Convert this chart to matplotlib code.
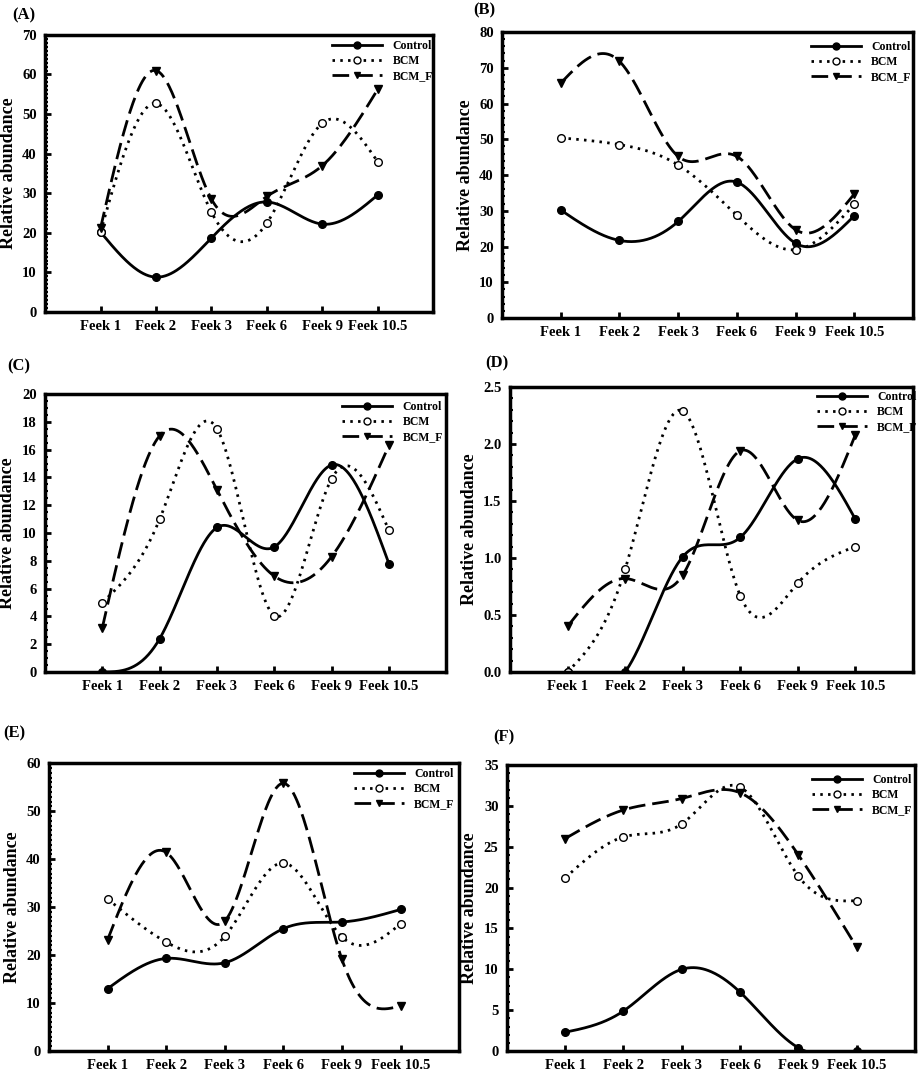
import numpy as np
import matplotlib
matplotlib.use('agg')
from matplotlib import pyplot
from matplotlib import rcParams
from matplotlib.ticker import MultipleLocator

rcParams['font.family'] = ['Liberation Serif', 'DejaVu Serif']
rcParams['font.weight'] = 'bold'

weeks = ['Feek 1', 'Feek 2', 'Feek 3', 'Feek 6', 'Feek 9', 'Feek 10.5']
x_pos = [1, 2, 3, 4, 5, 6]

# panel A
a_control = [20.2, 8.8, 18.7, 27.8, 22.2, 29.6]
a_bcm = [20.2, 52.7, 25.2, 22.5, 47.7, 37.9]
a_bcmf = [21.2, 61.0, 28.5, 29.2, 37.0, 56.3]
# panel B
b_control = [30.2, 21.7, 27.0, 38.0, 20.9, 28.6]
b_bcm = [50.4, 48.5, 42.8, 28.7, 19.1, 31.8]
b_bcmf = [65.7, 71.8, 45.2, 45.2, 24.7, 34.7]
# panel C
c_control = [0.0, 2.4, 10.4, 9.0, 14.9, 7.8]
c_bcm = [5.0, 11.0, 17.5, 4.05, 13.9, 10.2]
c_bcmf = [3.2, 17.0, 13.1, 6.9, 8.3, 16.3]
# panel D
d_control = [0.0, 0.0, 1.01, 1.18, 1.87, 1.34]
d_bcm = [0.0, 0.9, 2.29, 0.67, 0.78, 1.10]
d_bcmf = [0.40, 0.82, 0.85, 1.94, 1.33, 2.08]
# panel E
e_control = [13.0, 19.3, 18.4, 25.5, 26.9, 29.5]
e_bcm = [31.7, 22.7, 23.9, 39.2, 23.8, 26.5]
e_bcmf = [23.2, 41.4, 27.1, 55.8, 19.1, 9.4]
# panel F
f_control = [2.3, 4.9, 10.0, 7.2, 0.4, 0.0]
f_bcm = [21.2, 26.2, 27.8, 32.3, 21.4, 18.4]
f_bcmf = [26.0, 29.5, 30.9, 31.6, 24.0, 12.7]

panels = [
  ('(A)', a_control, a_bcm, a_bcmf, 70, 10, 10),
  ('(B)', b_control, b_bcm, b_bcmf, 80, 10, 5),
  ('(C)', c_control, c_bcm, c_bcmf, 20, 2, 4),
  ('(D)', d_control, d_bcm, d_bcmf, 2.5, 0.5, 5),
  ('(E)', e_control, e_bcm, e_bcmf, 60, 10, 10),
  ('(F)', f_control, f_bcm, f_bcmf, 35, 5, 5),
]

# layout (figure fractions) : axes rect, legend anchor, panel label position
axes_rects = [
  [0.049, 0.7095, 0.422, 0.258],
  [0.5457, 0.7039, 0.4467, 0.2663],
  [0.049, 0.3743, 0.436, 0.2588],
  [0.5543, 0.3743, 0.438, 0.2654],
  [0.0533, 0.0214, 0.4457, 0.268],
  [0.551, 0.0214, 0.4435, 0.2663],
]
legend_anchor = [(0.740, 0.982), (0.752, 0.969), (0.741, 0.975),
                 (0.762, 0.986), (0.744, 0.983), (0.748, 0.969)]
label_pos = [(12, 15), (473, 10), (7, 366), (485, 363), (3, 733), (493, 737)]


def natural_spline(x, y, n=300):
  # natural cubic spline, only used to draw the smooth connecting curve
  x = np.asarray(x, float)
  y = np.asarray(y, float)
  k = len(x)
  h = np.diff(x)
  A = np.zeros((k, k))
  r = np.zeros(k)
  A[0, 0] = 1
  A[-1, -1] = 1
  for i in range(1, k - 1):
    A[i, i - 1] = h[i - 1]
    A[i, i] = 2 * (h[i - 1] + h[i])
    A[i, i + 1] = h[i]
    r[i] = 6 * ((y[i + 1] - y[i]) / h[i] - (y[i] - y[i - 1]) / h[i - 1])
  m = np.linalg.solve(A, r)
  xs = np.linspace(x[0], x[-1], n)
  idx = np.clip(np.searchsorted(x, xs) - 1, 0, k - 2)
  x0, x1 = x[idx], x[idx + 1]
  hh = x1 - x0
  t0, t1 = x1 - xs, xs - x0
  ys = (m[idx] * t0 ** 3 + m[idx + 1] * t1 ** 3) / (6 * hh) \
    + (y[idx] / hh - m[idx] * hh / 6) * t0 + (y[idx + 1] / hh - m[idx + 1] * hh / 6) * t1
  return xs, ys


fig = pyplot.figure(figsize=(9.2, 10.74), dpi=100)

styles = [
  ('Control', '-', 'o', 'black'),
  ('BCM', (0, (0.9, 1.9)), 'o', 'white'),
  ('BCM_F', (0, (6, 2.5)), 'v', 'black'),
]

for p, (name, ctrl, bcm, bcmf, ymax, major, nminor) in enumerate(panels):
  ax = fig.add_axes(axes_rects[p])
  handles = []
  for (lab, ls, mk, fc), vals in zip(styles, [ctrl, bcm, bcmf]):
    xs, ys = natural_spline(x_pos, vals)
    ax.plot(xs, ys, color='black', linestyle=ls, linewidth=2)
    ax.plot(x_pos, vals, linestyle='none', marker=mk, markersize=5.5,
            markerfacecolor=fc, markeredgecolor='black', markeredgewidth=1)
    h, = ax.plot([], [], color='black', linestyle=ls, linewidth=2, marker=mk,
                 markersize=5, markerfacecolor=fc, markeredgecolor='black',
                 markeredgewidth=1, label=lab)
    handles.append(h)
  ax.set_xlim(0, 7)
  ax.set_ylim(0, ymax)
  ax.set_xticks(x_pos)
  ax.set_xticklabels(weeks)
  ax.yaxis.set_major_locator(MultipleLocator(major))
  ax.yaxis.set_minor_locator(MultipleLocator(major / nminor))
  ax.tick_params(axis='both', which='major', direction='in', length=4, width=2,
                 labelsize=10.5, pad=6)
  ax.tick_params(axis='y', which='minor', direction='in', length=2.5, width=1.5)
  ax.tick_params(top=False, right=False)
  for s in ax.spines.values():
    s.set_linewidth(2.5)
  for t in ax.get_xticklabels() + ax.get_yticklabels():
    t.set_fontweight('bold')
  ax.set_ylabel('Relative abundance', fontsize=13, fontweight='bold', labelpad=4)
  ax.legend(handles=handles, loc='upper left', bbox_to_anchor=legend_anchor[p],
            frameon=False, handlelength=4.2, handletextpad=0.9,
            labelspacing=0.25, borderpad=0, borderaxespad=0, numpoints=1,
            prop={'weight': 'bold', 'size': 8.5})
  lx, ly = label_pos[p]
  fig.text(lx / 920, 1 - ly / 1074, name, fontsize=12, fontweight='bold',
           ha='left', va='center')

fig.savefig('out.png', dpi=100)
